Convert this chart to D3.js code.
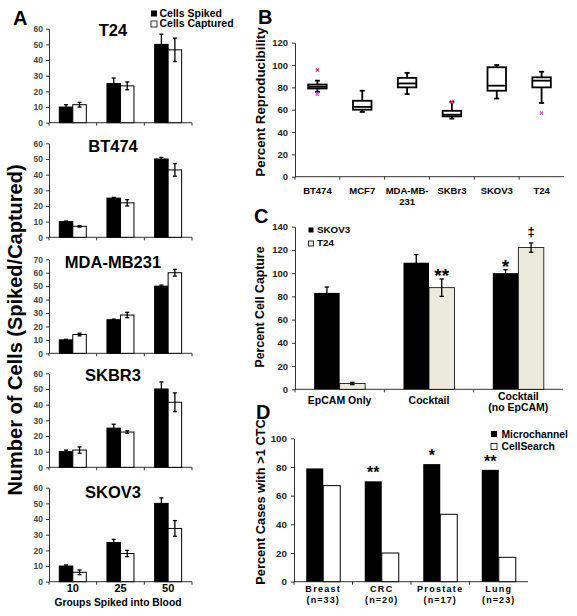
<!DOCTYPE html>
<html><head><meta charset="utf-8">
<script src="https://cdn.jsdelivr.net/npm/d3@7"></script>
<style>body{margin:0;background:#fff} svg{display:block} text{font-family:"Liberation Sans",Arial,sans-serif}</style>
</head><body>
<svg id="c" width="577" height="616"></svg>
<script>
// ---------- Panel A data ----------
const groupsA = ["10","25","50"];
const cellLinesA = ["T24","BT474","MDA-MB231","SKBR3","SKOV3"];
const yMaxA = [60,60,70,60,60];
const spikedA = [[10,25,50],[10,25,50],[10,25,50],[10,25,50],[10,25,50]];
const spikedErrA = [[1.5,3.5,6.5],[0.4,0.5,1],[0.4,0.5,0.8],[1,2.5,4.5],[0.7,2,3.5]];
const capturedA = [[11.5,23.5,46.5],[7,22,43],[14,28.5,60],[11,22.5,41.5],[6,18,34]];
const capturedErrA = [[1.5,2.5,7.5],[0.5,2,4],[1,2,2.5],[2,0.8,6],[1.5,2,5]];
const seriesA = ["Cells Spiked","Cells Captured"];

// ---------- Panel B data ----------
const boxCats = ["BT474","MCF7","MDA-MB-231","SKBr3","SKOV3","T24"];
const boxMin = [76,58,74,52,70,66];
const boxQ1 = [79,60,80,54,77,80];
const boxMed = [80.5,62.5,83.5,55.5,81.5,86];
const boxQ3 = [82.5,68,88.5,59,98,89];
const boxMax = [86,77,93,67,100,94];
const outlierCats = ["BT474","BT474","SKBr3","T24"];
const outlierVals = [95.5,74,67,57];
const outlierKind = ["red","magenta","red","magenta"];

// ---------- Panel C data ----------
const captureCats = ["EpCAM Only","Cocktail","Cocktail|(no EpCAM)"];
const captureSeries = ["SKOV3","T24"];
const skov3Vals = [83,109,100];
const skov3Err = [5,7,3];
const t24Vals = [5,87.5,122];
const t24Err = [1,7.5,4];

// ---------- Panel D data ----------
const cancerCats = ["Breast","CRC","Prostate","Lung"];
const cancerN = ["(n=33)","(n=20)","(n=17)","(n=23)"];
const microVals = [79,70,82,78];
const cellSearchVals = [67,20,47,17];
const microSig = ["","**","*","**"];

const svg = d3.select("#c");
const AX = "#333";

function styleAxis(g, fs, bold, col){
  g.select(".domain").attr("stroke",AX).attr("stroke-width",1);
  g.selectAll(".tick line").attr("stroke",AX);
  g.selectAll(".tick text").attr("font-size",fs).attr("font-weight",bold?"bold":"normal")
   .attr("fill",col||"#222").attr("font-family","'Liberation Sans',Arial,sans-serif");
}
function errBar(g, x, yTop, yBot, cap){
  g.append("line").attr("x1",x).attr("x2",x).attr("y1",yTop).attr("y2",yBot).attr("stroke","#000").attr("stroke-width",1.3);
  g.append("line").attr("x1",x-cap).attr("x2",x+cap).attr("y1",yTop).attr("y2",yTop).attr("stroke","#000").attr("stroke-width",1.3);
  g.append("line").attr("x1",x-cap).attr("x2",x+cap).attr("y1",yBot).attr("y2",yBot).attr("stroke","#000").attr("stroke-width",1.3);
}

// ================= Panel A =================
const aBase = [122.7,237.3,353.3,467.3,581.7];
const aH = 94;
const xA = d3.scaleBand().domain(groupsA).range([49,192]);
const xA1 = d3.scaleBand().domain(seriesA).range([10.3,37.3]);
cellLinesA.forEach((name,i)=>{
  const y = d3.scaleLinear().domain([0,yMaxA[i]]).range([aBase[i], aBase[i]-aH]);
  const g = svg.append("g");
  const ax = g.append("g").attr("transform","translate(49,0)")
    .call(d3.axisLeft(y).tickValues(d3.range(0,yMaxA[i]+1,10)).tickSize(3).tickSizeOuter(0).tickPadding(3));
  styleAxis(ax, 8.5, true, "#444");
  g.append("line").attr("x1",49).attr("x2",192).attr("y1",aBase[i]).attr("y2",aBase[i]).attr("stroke",AX);
  [0,1,2,3].forEach(k=>{
    const xx = 49 + k*xA.step();
    g.append("line").attr("x1",xx).attr("x2",xx).attr("y1",aBase[i]).attr("y2",aBase[i]+3).attr("stroke",AX);
  });
  groupsA.forEach((grp,j)=>{
    const vals = [spikedA[i][j], capturedA[i][j]];
    const errs = [spikedErrA[i][j], capturedErrA[i][j]];
    seriesA.forEach((s,k)=>{
      const x0 = xA(grp)+xA1(s);
      g.append("rect").attr("x",x0).attr("y",y(vals[k])).attr("width",xA1.bandwidth()).attr("height",y(0)-y(vals[k]))
        .attr("fill",k===0?"#000":"#fff").attr("stroke","#000").attr("stroke-width",1);
      errBar(g, x0+xA1.bandwidth()/2, y(vals[k]+errs[k]), y(vals[k]-errs[k]), 2);
    });
  });
  const tB = [36,152,268,381,498];
  g.append("text").attr("x",113).attr("y",tB[i]).attr("text-anchor","middle")
    .attr("font-size",16.5).attr("font-weight","bold").text(name);
  if(i===4){
    groupsA.forEach(grp=>{
      g.append("text").attr("x",xA(grp)+xA.bandwidth()/2).attr("y",592).attr("text-anchor","middle")
        .attr("font-size",11).attr("font-weight","bold").text(grp);
    });
    g.append("text").attr("x",118).attr("y",606).attr("text-anchor","middle")
      .attr("font-size",10.3).attr("font-weight","bold").text("Groups Spiked into Blood");
  }
});
svg.append("text").attr("x",13).attr("y",25).attr("font-size",20).attr("font-weight","bold").text("A");
svg.append("text").attr("transform","translate(22,330) rotate(-90)").attr("text-anchor","middle")
  .attr("font-size",20).attr("font-weight","bold").text("Number of Cells (Spiked/Captured)");
// legend A
seriesA.forEach((s,k)=>{
  svg.append("rect").attr("x",151).attr("y",10.5+k*10.5).attr("width",6).attr("height",6)
    .attr("fill",k===0?"#000":"#fff").attr("stroke","#000").attr("stroke-width",k===0?0:0.8);
  svg.append("text").attr("x",159.5).attr("y",16.8+k*10.5).attr("font-size",10.5).attr("font-weight","bold").text(s);
});

// ================= Panel B =================
const yB = d3.scaleLinear().domain([0,120]).range([176.7,42.7]);
const xB = d3.scaleBand().domain(boxCats).range([295,564]);
const gB = svg.append("g");
const axB = gB.append("g").attr("transform","translate(295,0)")
  .call(d3.axisLeft(yB).tickValues(d3.range(0,121,20)).tickSize(3).tickSizeOuter(0).tickPadding(4));
styleAxis(axB, 9.5, true);
gB.append("line").attr("x1",295).attr("x2",564).attr("y1",yB(0)).attr("y2",yB(0)).attr("stroke",AX);
boxCats.forEach((c,i)=>{
  const cx = xB(c)+xB.bandwidth()/2, w = 18.5;
  gB.append("line").attr("x1",xB(c)).attr("x2",xB(c)).attr("y1",yB(0)).attr("y2",yB(0)+3).attr("stroke",AX);
  gB.append("line").attr("x1",cx).attr("x2",cx).attr("y1",yB(boxMax[i])).attr("y2",yB(boxMin[i])).attr("stroke","#000").attr("stroke-width",1.8);
  [boxMax[i],boxMin[i]].forEach(v=>gB.append("line").attr("x1",cx-2.5).attr("x2",cx+2.5).attr("y1",yB(v)).attr("y2",yB(v)).attr("stroke","#000").attr("stroke-width",1.8));
  gB.append("rect").attr("x",cx-w/2).attr("y",yB(boxQ3[i])).attr("width",w).attr("height",yB(boxQ1[i])-yB(boxQ3[i]))
    .attr("fill","#fff").attr("stroke","#000").attr("stroke-width",1.8);
  gB.append("line").attr("x1",cx-w/2).attr("x2",cx+w/2).attr("y1",yB(boxMed[i])).attr("y2",yB(boxMed[i])).attr("stroke","#000").attr("stroke-width",1.8);
  const lines = c==="MDA-MB-231" ? ["MDA-MB-","231"] : [c];
  lines.forEach((t,k)=>gB.append("text").attr("x",cx).attr("y",193.5+k*11.5).attr("text-anchor","middle")
    .attr("font-size",9.5).attr("font-weight","bold").text(t));
});
outlierCats.forEach((c,i)=>{
  const cx = xB(c)+xB.bandwidth()/2, cy = yB(outlierVals[i]);
  const col = outlierKind[i]==="red" ? "#e8324f" : "#e44fe4";
  gB.append("path").attr("d",`M${cx-1.6},${cy-1.6}L${cx+1.6},${cy+1.6}M${cx-1.6},${cy+1.6}L${cx+1.6},${cy-1.6}`)
    .attr("stroke",col).attr("stroke-width",1.3);
});
svg.append("text").attr("x",258).attr("y",24).attr("font-size",20).attr("font-weight","bold").text("B");
svg.append("text").attr("transform","translate(265,102) rotate(-90)").attr("text-anchor","middle")
  .attr("font-size",13.3).attr("font-weight","bold").text("Percent Reproducibility");

// ================= Panel C =================
const yC = d3.scaleLinear().domain([0,140]).range([389.3,226.7]);
const xC = d3.scaleBand().domain(captureCats).range([295,563]);
const xC1 = d3.scaleBand().domain(captureSeries).range([19.15,70.15]);
const gC = svg.append("g");
const axC = gC.append("g").attr("transform","translate(295,0)")
  .call(d3.axisLeft(yC).tickValues(d3.range(0,141,20)).tickSize(3).tickSizeOuter(0).tickPadding(4));
styleAxis(axC, 9.5, true);
gC.append("line").attr("x1",295).attr("x2",563).attr("y1",yC(0)).attr("y2",yC(0)).attr("stroke",AX);
captureCats.forEach((c,i)=>{
  gC.append("line").attr("x1",xC(c)).attr("x2",xC(c)).attr("y1",yC(0)).attr("y2",yC(0)+3).attr("stroke",AX);
  const vals=[skov3Vals[i],t24Vals[i]], errs=[skov3Err[i],t24Err[i]];
  captureSeries.forEach((s,k)=>{
    const x0 = xC(c)+xC1(s);
    gC.append("rect").attr("x",x0).attr("y",yC(vals[k])).attr("width",xC1.bandwidth()).attr("height",yC(0)-yC(vals[k]))
      .attr("fill",k===0?"#000":"#ecEADD").attr("stroke","#000").attr("stroke-width",k===0?0:0.8);
    errBar(gC, x0+xC1.bandwidth()/2, yC(vals[k]+errs[k]), yC(vals[k]-errs[k]), 2.2);
  });
  const cx = xC(c)+xC.bandwidth()/2;
  const parts = c.split("|");
  if(parts.length===1){
    gC.append("text").attr("x",cx).attr("y",404).attr("text-anchor","middle").attr("font-size",10.5).attr("font-weight","bold").text(parts[0]);
  } else {
    gC.append("text").attr("x",cx).attr("y",399.5).attr("text-anchor","middle").attr("font-size",10.5).attr("font-weight","bold").text(parts[0]);
    gC.append("text").attr("x",cx).attr("y",410.5).attr("text-anchor","middle").attr("font-size",10.5).attr("font-weight","bold").text(parts[1]);
  }
});
// significance marks in C
const cMark = (ci, si, txt, fs, off)=>{
  const x0 = xC(captureCats[ci])+xC1(captureSeries[si])+xC1.bandwidth()/2;
  const v = si===0 ? skov3Vals[ci]+skov3Err[ci] : t24Vals[ci]+t24Err[ci];
  gC.append("text").attr("x",x0).attr("y",yC(v)-off).attr("text-anchor","middle").attr("font-size",fs).attr("font-weight","bold").text(txt);
};
cMark(1,1,"**",19,-3);
cMark(2,0,"*",19,-3);
cMark(2,1,"‡",13,7);
captureSeries.forEach((s,k)=>{
  svg.append("rect").attr("x",308.5).attr("y",227.5+k*13.5).attr("width",5).attr("height",5)
    .attr("fill",k===0?"#000":"#ecEADD").attr("stroke","#000").attr("stroke-width",k===0?0:0.8);
  svg.append("text").attr("x",317).attr("y",232.8+k*13.5).attr("font-size",9.8).attr("font-weight","bold").text(s);
});
svg.append("text").attr("x",254).attr("y",223).attr("font-size",20).attr("font-weight","bold").text("C");
svg.append("text").attr("transform","translate(264,307) rotate(-90)").attr("text-anchor","middle")
  .attr("font-size",12.3).attr("font-weight","bold").text("Percent Cell Capture");

// ================= Panel D =================
const yD = d3.scaleLinear().domain([0,100]).range([581.7,438.3]);
const xD = d3.scaleBand().domain(cancerCats).range([294,528]);
const xD1 = d3.scaleBand().domain(["Microchannel","CellSearch"]).range([12.25,46.25]);
const gD = svg.append("g");
const axD = gD.append("g").attr("transform","translate(294,0)")
  .call(d3.axisLeft(yD).tickValues(d3.range(0,101,20)).tickSize(3).tickSizeOuter(0).tickPadding(4));
styleAxis(axD, 9.8, true);
gD.append("line").attr("x1",294).attr("x2",528).attr("y1",yD(0)).attr("y2",yD(0)).attr("stroke",AX);
cancerCats.forEach((c,i)=>{
  gD.append("line").attr("x1",xD(c)).attr("x2",xD(c)).attr("y1",yD(0)).attr("y2",yD(0)+3).attr("stroke",AX);
  const vals=[microVals[i],cellSearchVals[i]];
  ["Microchannel","CellSearch"].forEach((s,k)=>{
    gD.append("rect").attr("x",xD(c)+xD1(s)).attr("y",yD(vals[k])).attr("width",xD1.bandwidth()).attr("height",yD(0)-yD(vals[k]))
      .attr("fill",k===0?"#000":"#fff").attr("stroke","#000").attr("stroke-width",k===0?0:1);
  });
  if(microSig[i]) gD.append("text").attr("x",xD(c)+xD1("Microchannel")+xD1.bandwidth()/2).attr("y",yD(microVals[i])-3)
    .attr("text-anchor","middle").attr("font-size",16).attr("font-weight","bold").text(microSig[i]);
  const cx = xD(c)+xD.bandwidth()/2;
  gD.append("text").attr("x",cx).attr("y",592).attr("text-anchor","middle").attr("font-size",9).attr("font-weight","bold").attr("letter-spacing",1.3).text(c);
  gD.append("text").attr("x",cx).attr("y",603).attr("text-anchor","middle").attr("font-size",9).attr("font-weight","bold").attr("letter-spacing",1.1).text(cancerN[i]);
});
["Microchannel","CellSearch"].forEach((s,k)=>{
  svg.append("rect").attr("x",491).attr("y",431+k*12.5).attr("width",6).attr("height",6)
    .attr("fill",k===0?"#000":"#fff").attr("stroke","#000").attr("stroke-width",k===0?0:0.8);
  svg.append("text").attr("x",501.5).attr("y",437.5+k*12.5).attr("font-size",10.3).attr("font-weight","bold").text(s);
});
svg.append("text").attr("x",256).attr("y",419).attr("font-size",20).attr("font-weight","bold").text("D");
svg.append("text").attr("transform","translate(265,502) rotate(-90)").attr("text-anchor","middle")
  .attr("font-size",12.8).attr("font-weight","bold").text("Percent Cases with >1 CTC");
</script>
</body></html>
